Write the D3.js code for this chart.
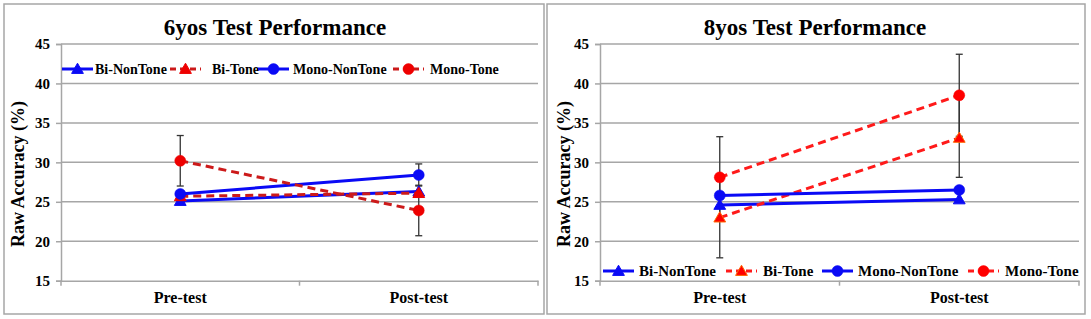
<!DOCTYPE html>
<html><head><meta charset="utf-8">
<script src="https://cdn.jsdelivr.net/npm/d3@7/dist/d3.min.js"></script>
</head>
<body style="margin:0;background:#fff"><svg id="chart" width="1091" height="319" style="display:block"></svg>
<script>
// ---------- data ----------
const categories = ["Pre-test", "Post-test"];
const seriesNames = ["Bi-NonTone", "Bi-Tone", "Mono-NonTone", "Mono-Tone"];
const yTicks = [15, 20, 25, 30, 35, 40, 45];
const panelTitles = ["6yos Test Performance", "8yos Test Performance"];
const yAxisTitle = "Raw Accuracy (%)";

const six_BiNonTone = [25.1, 26.3];
const six_BiTone = [25.7, 26.1];
const six_MonoNonTone = [26.0, 28.4];
const six_MonoTone = [30.2, 23.9];
const six_BiNonToneErr = [null, null];
const six_BiToneErr = [null, null];
const six_MonoNonToneErr = [null, 1.4];
const six_MonoToneErr = [3.2, 3.2];

const eight_BiNonTone = [24.6, 25.3];
const eight_BiTone = [23.0, 33.1];
const eight_MonoNonTone = [25.8, 26.5];
const eight_MonoTone = [28.1, 38.5];
const eight_BiNonToneErr = [null, null];
const eight_BiToneErr = [5.1, 5.0];
const eight_MonoNonToneErr = [null, null];
const eight_MonoToneErr = [5.15, 5.2];

// ---------- layout / style ----------
const FONT = "Liberation Serif";
const svg = d3.select("#chart");
const gridColor = "#a6a6a6";

function txt(sel) {
  return sel.attr("font-family", FONT).attr("font-weight", "bold").attr("fill", "#000");
}

const panels = [
  {
    title: panelTitles[0],
    values: [six_BiNonTone, six_BiTone, six_MonoNonTone, six_MonoTone],
    errs: [six_BiNonToneErr, six_BiToneErr, six_MonoNonToneErr, six_MonoToneErr],
    box: [4, 4, 544, 314], plotL: 61, plotR: 538, titleCx: 275, yTitleX: 18,
    legendY: 69, sampleX: [62, 170, 258, 393], textX: [95, 212, 293, 430], legendFont: 14,
    redLine: "#cc1a1a", redMarker: "#ee0000", triStroke: "#ee0000"
  },
  {
    title: panelTitles[1],
    values: [eight_BiNonTone, eight_BiTone, eight_MonoNonTone, eight_MonoTone],
    errs: [eight_BiNonToneErr, eight_BiToneErr, eight_MonoNonToneErr, eight_MonoToneErr],
    box: [547, 4, 1085, 314], plotL: 600, plotR: 1079, titleCx: 815, yTitleX: 564,
    legendY: 271, sampleX: [603, 726, 822, 968], textX: [639, 763, 858, 1005], legendFont: 15,
    redLine: "#ff1a1a", redMarker: "#ff0000", triStroke: "#ff6600"
  }
];

const y = d3.scaleLinear().domain([15, 45]).range([280.7, 44]);

function styleFor(p, i) {
  const blue = "#0a0af5";
  return [
    {line: blue, dash: null, fill: blue, stroke: blue, shape: "tri"},
    {line: p.redLine, dash: "8,5", fill: p.redMarker, stroke: p.triStroke, shape: "tri"},
    {line: blue, dash: null, fill: blue, stroke: blue, shape: "circ"},
    {line: p.redLine, dash: "8,5", fill: p.redMarker, stroke: p.redMarker, shape: "circ"}
  ][i];
}

function marker(g, shape, cx, cy, st) {
  if (shape === "tri") {
    g.append("path")
      .attr("d", d3.symbol().type(d3.symbolTriangle).size(60)())
      .attr("transform", `translate(${cx},${cy + 1})`)
      .attr("fill", st.fill).attr("stroke", st.stroke).attr("stroke-width", 1);
  } else {
    g.append("circle").attr("cx", cx).attr("cy", cy).attr("r", 5.5)
      .attr("fill", st.fill).attr("stroke", st.stroke).attr("stroke-width", 0.5);
  }
}

panels.forEach(p => {
  const g = svg.append("g");
  const [bx0, by0, bx1, by1] = p.box;
  g.append("rect").attr("x", bx0).attr("y", by0).attr("width", bx1 - bx0).attr("height", by1 - by0)
    .attr("fill", "#fff").attr("stroke", gridColor).attr("stroke-width", 1.5);

  const x = d3.scaleBand().domain(categories).range([p.plotL, p.plotR]);
  const xc = c => x(c) + x.bandwidth() / 2;

  // gridlines
  g.append("g").selectAll("line").data(yTicks.filter(t => t > 15)).join("line")
    .attr("x1", p.plotL).attr("x2", p.plotR).attr("y1", d => y(d)).attr("y2", d => y(d))
    .attr("stroke", gridColor).attr("stroke-width", 1.5);

  // y axis
  const ya = g.append("g").attr("transform", `translate(${p.plotL},0)`)
    .call(d3.axisLeft(y).tickValues(yTicks).tickSize(5).tickPadding(6).tickFormat(d3.format("d")));
  ya.attr("font-family", FONT);
  ya.select(".domain").attr("stroke", gridColor).attr("stroke-width", 1.5);
  ya.selectAll(".tick line").attr("stroke", gridColor).attr("stroke-width", 1.5);
  txt(ya.selectAll("text")).attr("font-size", 15);

  // x axis
  const xa = g.append("g").attr("transform", `translate(0,${y(15)})`)
    .call(d3.axisBottom(x).tickSize(0).tickPadding(11));
  xa.attr("font-family", FONT);
  xa.select(".domain").attr("stroke", gridColor).attr("stroke-width", 1.5);
  txt(xa.selectAll("text")).attr("font-size", 16);
  const bounds = [p.plotL, x(categories[1]), p.plotR];
  g.append("g").selectAll("line").data(bounds).join("line")
    .attr("x1", d => d).attr("x2", d => d).attr("y1", y(15)).attr("y2", y(15) + 5)
    .attr("stroke", gridColor).attr("stroke-width", 1.5);

  // title
  txt(g.append("text")).attr("x", p.titleCx).attr("y", 35).attr("text-anchor", "middle")
    .attr("font-size", 23).text(p.title);

  // y axis title
  txt(g.append("text")).attr("transform", `translate(${p.yTitleX + 6},${174}) rotate(-90)`)
    .attr("text-anchor", "middle").attr("font-size", 18).text(yAxisTitle);

  // error bars
  p.errs.forEach((errArr, si) => {
    errArr.forEach((e, ci) => {
      if (e == null) return;
      const v = p.values[si][ci];
      const cx = xc(categories[ci]);
      g.append("line").attr("x1", cx).attr("x2", cx).attr("y1", y(v - e)).attr("y2", y(v + e))
        .attr("stroke", "#333").attr("stroke-width", 1.3);
      [v - e, v + e].forEach(t => g.append("line").attr("x1", cx - 3.5).attr("x2", cx + 3.5)
        .attr("y1", y(t)).attr("y2", y(t)).attr("stroke", "#333").attr("stroke-width", 1.3));
    });
  });

  // series
  const line = d3.line().x((d, i) => xc(categories[i])).y(d => y(d));
  p.values.forEach((vals, si) => {
    const st = styleFor(p, si);
    g.append("path").datum(vals).attr("d", line).attr("fill", "none")
      .attr("stroke", st.line).attr("stroke-width", 3).attr("stroke-dasharray", st.dash);
    vals.forEach((v, ci) => marker(g, st.shape, xc(categories[ci]), y(v), st));
  });

  // legend
  seriesNames.forEach((name, si) => {
    const st = styleFor(p, si);
    const sx = p.sampleX[si];
    const w = 31;
    g.append("line").attr("x1", sx).attr("x2", sx + w).attr("y1", p.legendY).attr("y2", p.legendY)
      .attr("stroke", st.line).attr("stroke-width", 3).attr("stroke-dasharray", st.dash ? "6,4" : null);
    marker(g, st.shape, sx + w / 2, p.legendY, st);
    txt(g.append("text")).attr("x", p.textX[si]).attr("y", p.legendY + 5).attr("font-size", p.legendFont)
      .text(name);
  });
});
</script></body></html>
